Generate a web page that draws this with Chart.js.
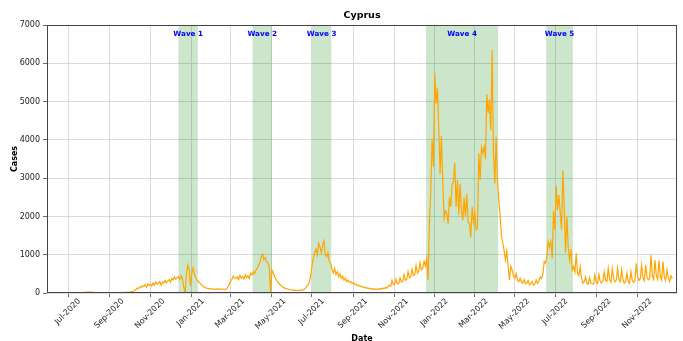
<!DOCTYPE html>
<html>
<head>
<meta charset="utf-8">
<script src="https://cdn.jsdelivr.net/npm/chart.js@4.4.1/dist/chart.umd.min.js"></script>
<style>
  html, body { margin: 0; padding: 0; background: #fff; }
  canvas { display: block; }
</style>
</head>
<body>
<canvas id="chart" width="683" height="341"></canvas>
<script>
// new daily cases, Cyprus - one reading every 2 days from startDate
const startDate = '2020-05-31';
const stepDays = 2;
const cases = [
  // Jun - Jul 2020
  2,5,3,1,4,2,0,3,6,2,1,4,2,3,5,2,
  4,6,3,8,5,2,6,9,4,3,7,12,18,22,15,
  // Aug - Sep 2020
  25,28,20,18,14,12,10,15,8,11,6,9,12,7,5,10,
  8,4,6,9,5,7,12,6,10,14,8,16,22,18,25,
  30,38,45,60,
  // Oct - Dec 2020
  85,130,110,160,145,190,170,220,150,240,200,230,180,260,210,
  280,230,250,300,200,290,260,330,270,310,350,280,380,340,420,360,
  // wave 1
  400,430,350,450,380,150,10,480,730,620,180,520,660,480,400,330,
  300,260,220,190,160,140,130,115,120,105,110,100,95,110,100,105,95,110,
  // Feb - Mar 2021
  100,95,90,110,150,220,300,360,440,400,
  380,420,350,460,390,430,360,480,400,450,380,520,470,560,500,
  // wave 2
  600,640,720,800,940,1010,870,930,820,780,700,20,600,520,430,
  360,300,260,220,190,160,140,120,110,100,90,85,80,75,70,
  65,70,60,75,70,80,95,120,160,210,280,
  // wave 3
  450,700,900,1050,1150,1000,1300,1200,1050,1250,1360,1000,950,1050,820,760,
  620,520,640,480,560,420,500,380,440,330,390,300,340,280,300,250,270,220,
  // Sep - Oct 2021
  230,190,210,170,180,150,160,130,140,120,125,105,115,95,110,90,105,95,120,100,
  130,110,150,120,170,
  // Nov - Dec 2021
  200,180,330,220,230,360,240,250,400,290,300,480,330,360,560,400,420,620,460,480,
  720,520,560,790,600,640,830,700,900,340,
  // wave 4
  1800,2600,4000,3300,5750,4950,5350,4300,3100,4100,
  2900,1950,2150,2100,1800,2500,2250,2850,2900,3400,
  2250,2950,2050,2850,2170,1900,2500,2000,2600,1850,
  1820,1450,2250,1850,2100,1650,1700,3650,2950,3800,
  3650,3820,3500,5200,4700,5050,4250,6350,3650,2860,
  4080,2950,2430,2000,1500,1300,1100,860,1100,700,
  // Apr - Jun 2022
  340,700,600,450,380,500,330,300,380,280,260,350,240,260,330,210,250,300,200,230,
  340,250,
  // wave 5
  300,420,380,500,820,780,950,1340,1200,1340,900,2150,1650,2800,2170,2560,2100,1650,3200,2250,
  1050,1990,1200,860,1150,600,690,550,
  // Aug - Dec 2022
  1035,520,450,690,380,250,300,420,250,230,
  400,260,240,230,470,280,250,480,300,260,
  310,555,330,300,645,350,280,640,370,290,
  330,645,350,290,600,340,260,300,515,300,
  250,560,330,280,340,775,420,330,380,730,
  400,320,730,420,340,380,990,450,350,860,
  460,360,850,430,340,820,420,330,600,380,
  300,450,380
];

const tickLabels = ['Jul-2020', 'Sep-2020', 'Nov-2020', 'Jan-2021', 'Mar-2021', 'May-2021', 'Jul-2021',
  'Sep-2021', 'Nov-2021', 'Jan-2022', 'Mar-2022', 'May-2022', 'Jul-2022', 'Sep-2022', 'Nov-2022'];
const tickDates = ['2020-07-01', '2020-09-01', '2020-11-01', '2021-01-01', '2021-03-01', '2021-05-01', '2021-07-01',
  '2021-09-01', '2021-11-01', '2022-01-01', '2022-03-01', '2022-05-01', '2022-07-01', '2022-09-01', '2022-11-01'];
const yTicks = [0, 1000, 2000, 3000, 4000, 5000, 6000, 7000];

const waveNames = ['Wave 1', 'Wave 2', 'Wave 3', 'Wave 4', 'Wave 5'];
const waveStarts = ['2020-12-13', '2021-04-03', '2021-07-01', '2021-12-19', '2022-06-17'];
const waveEnds = ['2021-01-11', '2021-05-02', '2021-07-30', '2022-04-06', '2022-07-27'];
const waveLabelValue = 6750;

const xMinDate = '2020-05-30';
const xMaxDate = '2022-12-30';

const FONT = 'DejaVu Sans';

// date string -> day number
function dayNum(s) {
  const p = s.split('-').map(Number);
  return Date.UTC(p[0], p[1] - 1, p[2]) / 86400000;
}

const start = dayNum(startDate);
const points = cases.map((v, i) => ({ x: start + i * stepDays, y: v }));

// spans, labels, frame and axis texts
const decor = {
  id: 'decor',
  beforeDatasetsDraw(chart) {
    const { ctx, chartArea: a, scales: { x } } = chart;
    ctx.save();
    ctx.fillStyle = 'rgba(0, 128, 0, 0.2)';
    waveNames.forEach((n, i) => {
      const x0 = x.getPixelForValue(dayNum(waveStarts[i]));
      const x1 = x.getPixelForValue(dayNum(waveEnds[i]));
      ctx.fillRect(x0, a.top, x1 - x0, a.bottom - a.top);
    });
    ctx.restore();
  },
  afterDraw(chart) {
    const { ctx, chartArea: a, scales: { x, y } } = chart;
    ctx.save();

    // frame
    ctx.strokeStyle = '#444';
    ctx.lineWidth = 1;
    ctx.strokeRect(a.left + 0.5, a.top + 0.5, a.right - a.left - 1, a.bottom - a.top - 1);

    // wave labels
    ctx.fillStyle = '#0000ff';
    ctx.font = 'bold 7.2px "' + FONT + '"';
    ctx.textAlign = 'center';
    ctx.textBaseline = 'middle';
    const ly = y.getPixelForValue(waveLabelValue);
    waveNames.forEach((n, i) => {
      const cx = (x.getPixelForValue(dayNum(waveStarts[i])) + x.getPixelForValue(dayNum(waveEnds[i]))) / 2;
      ctx.fillText(n, cx, ly);
    });

    // x tick labels, rotated 45 and centred on the tick
    ctx.fillStyle = '#222';
    ctx.font = '8px "' + FONT + '"';
    tickLabels.forEach((t, i) => {
      const px = x.getPixelForValue(dayNum(tickDates[i]));
      const w = ctx.measureText(t).width;
      const cy = a.bottom + 3.5 + (w + 9.6) * 0.7071 / 2;
      ctx.save();
      ctx.translate(px - 0.5, cy);
      ctx.rotate(-Math.PI / 4);
      ctx.fillText(t, 0, 0);
      ctx.restore();
    });

    // titles
    ctx.fillStyle = '#000';
    ctx.font = 'bold 9.5px "' + FONT + '"';
    ctx.fillText('Cyprus', (a.left + a.right) / 2, 16);

    ctx.font = 'bold 8px "' + FONT + '"';
    ctx.textBaseline = 'top';
    ctx.fillText('Date', (a.left + a.right) / 2, 335);

    ctx.save();
    ctx.translate(15, (a.top + a.bottom) / 2);
    ctx.rotate(-Math.PI / 2);
    ctx.textBaseline = 'middle';
    ctx.fillText('Cases', 0, 0);
    ctx.restore();

    ctx.restore();
  }
};

new Chart(document.getElementById('chart'), {
  type: 'line',
  data: {
    datasets: [{
      data: points,
      borderColor: '#ffa500',
      borderWidth: 1.2,
      pointRadius: 0,
      fill: false,
      tension: 0
    }]
  },
  options: {
    responsive: false,
    animation: false,
    parsing: false,
    layout: { padding: { left: 0, right: 6, top: 25, bottom: 0 } },
    plugins: {
      legend: { display: false },
      tooltip: { enabled: false },
      title: { display: false }
    },
    scales: {
      x: {
        type: 'linear',
        min: dayNum(xMinDate),
        max: dayNum(xMaxDate),
        afterBuildTicks: (s) => { s.ticks = tickDates.map(d => ({ value: dayNum(d) })); },
        afterFit: (s) => { s.height = 48; },
        ticks: { display: false },
        grid: { color: '#d0d0d0', lineWidth: 0.8, drawTicks: true, tickLength: 4, tickColor: '#444' },
        border: { display: false }
      },
      y: {
        min: 0,
        max: 7000,
        afterBuildTicks: (s) => { s.ticks = yTicks.map(v => ({ value: v })); },
        afterFit: (s) => { s.width = 47; },
        ticks: {
          color: '#222',
          font: { family: FONT, size: 8 },
          padding: 3,
          callback: (v) => String(v)
        },
        grid: { color: '#d0d0d0', lineWidth: 0.8, drawTicks: true, tickLength: 4, tickColor: '#444' },
        border: { display: false }
      }
    }
  },
  plugins: [decor]
});
</script>
</body>
</html>
